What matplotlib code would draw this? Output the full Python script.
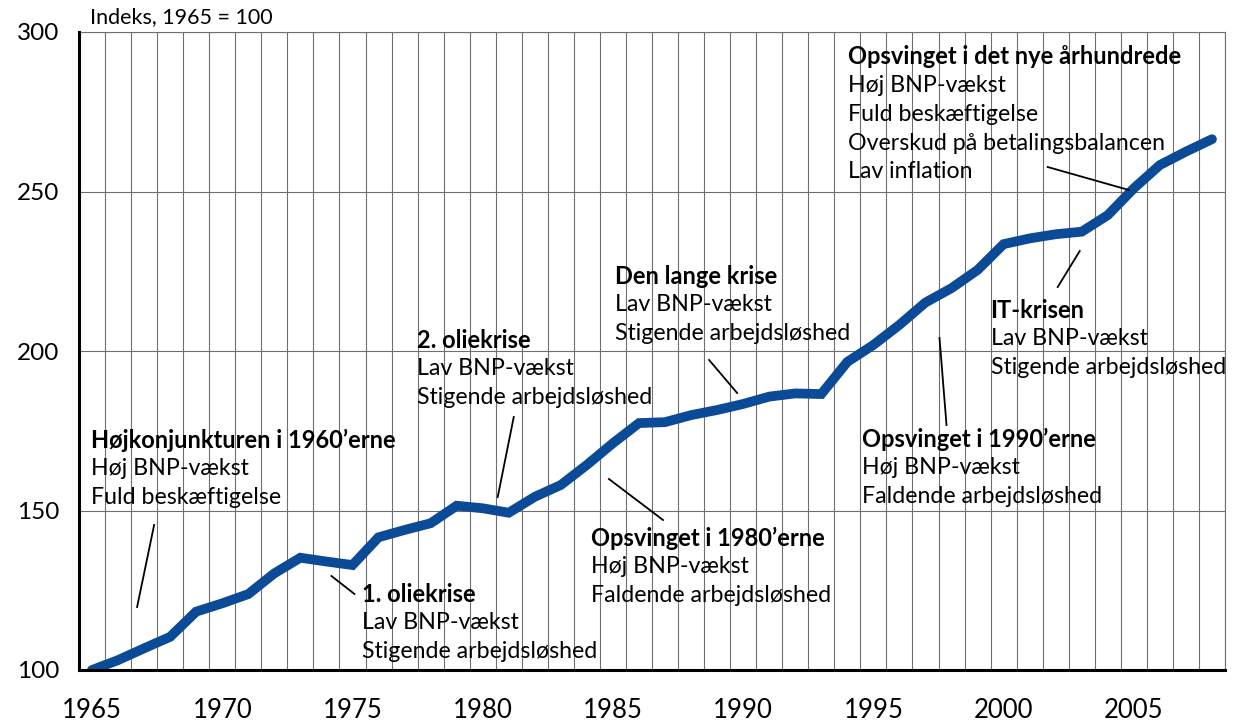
import numpy as np
import matplotlib
matplotlib.use("Agg")
import matplotlib.pyplot as plt
from matplotlib.ticker import FixedLocator

plt.rcParams['font.family'] = ['Lato', 'DejaVu Sans']

# data: index 1965 = 100
years = list(range(1965, 2009))
index = [100.0, 103.1, 106.8, 110.4, 118.3, 120.9, 123.8, 130.3, 135.2, 134.0,
         132.9, 141.6, 143.9, 146.0, 151.5, 150.7, 149.3, 154.3, 158.0, 164.3,
         171.1, 177.4, 177.7, 179.9, 181.5, 183.4, 185.7, 186.7, 186.5, 196.6,
         201.9, 208.2, 215.2, 219.7, 225.4, 233.5, 235.3, 236.6, 237.4, 242.6,
         251.0, 258.3, 262.5, 266.4]

ylabel = "Indeks, 1965 = 100"

# annotation blocks: title, body lines
titles = ["Højkonjunkturen i 1960\u2019erne", "1. oliekrise", "2. oliekrise",
          "Opsvinget i 1980\u2019erne", "Den lange krise", "Opsvinget i 1990\u2019erne",
          "IT-krisen", "Opsvinget i det nye århundrede"]
bodies = [["Høj BNP-vækst", "Fuld beskæftigelse"],
          ["Lav BNP-vækst", "Stigende arbejdsløshed"],
          ["Lav BNP-vækst", "Stigende arbejdsløshed"],
          ["Høj BNP-vækst", "Faldende arbejdsløshed"],
          ["Lav BNP-vækst", "Stigende arbejdsløshed"],
          ["Høj BNP-vækst", "Faldende arbejdsløshed"],
          ["Lav BNP-vækst", "Stigende arbejdsløshed"],
          ["Høj BNP-vækst", "Fuld beskæftigelse", "Overskud på betalingsbalancen", "Lav inflation"]]
# text anchor (pixel left, pixel centre of first line) and leader line ends (pixels)
text_px = [(92, 440), (363, 594), (417, 340), (591, 538), (615, 276), (862, 439), (990, 310), (848, 57)]
leaders_px = [((155, 525), (138, 607)),
              ((332, 576), (355, 594)),
              ((514, 417), (498, 497)),
              ((609, 479), (663, 520)),
              ((709, 360), (737, 393)),
              ((939, 338), (946, 425)),
              ((1079, 251), (1057, 287)),
              ((1047, 167), (1128, 190))]


def px2data(px, py):
    return 1965 + (px - 93) / 26.0, 100 + (670 - py) / 3.19


fig = plt.figure(figsize=(12.51, 7.27), dpi=100)
ax = fig.add_axes([79 / 1251, 57 / 727, (1225 - 79) / 1251, (670 - 32) / 727])

ax.plot(years, index, color='#0b4a96', lw=7, solid_joinstyle='miter', solid_capstyle='round', zorder=3)

ax.set_xlim(1964.5, 2008.5)
ax.set_ylim(100, 300)
ax.set_xticks(range(1965, 2006, 5))
ax.xaxis.set_minor_locator(FixedLocator(np.arange(1964.5, 2009, 1)))
ax.set_yticks([100, 150, 200, 250, 300])
ax.tick_params(which='both', length=0)
ax.tick_params(axis='x', pad=20, labelsize=18.5)
ax.tick_params(axis='y', pad=14, labelsize=17.5)
ax.grid(which='minor', axis='x', color='#6f6f6f', lw=0.8)
ax.grid(which='major', axis='y', color='#6f6f6f', lw=0.8)
ax.grid(which='major', axis='x', visible=False)

for side in ['top', 'right']:
    ax.spines[side].set_color('#6f6f6f')
    ax.spines[side].set_linewidth(0.8)
for side in ['left', 'bottom']:
    ax.spines[side].set_color('black')
    ax.spines[side].set_linewidth(2.2)
    ax.spines[side].set_zorder(4)

fig.text(90 / 1251, 1 - 17 / 727, ylabel, fontsize=15.5, va='center', ha='left')

step = 28.7
for title, body, (tx, ty), (p0, p1) in zip(titles, bodies, text_px, leaders_px):
    x0, y0 = px2data(tx, ty)
    ax.text(x0, y0, title, fontsize=17, fontweight='bold', va='center', ha='left', zorder=5)
    for i, line in enumerate(body):
        xi, yi = px2data(tx, ty + step * (i + 1))
        ax.text(xi, yi, line, fontsize=16.7, va='center', ha='left', zorder=5)
    a = px2data(*p0)
    b = px2data(*p1)
    ax.plot([a[0], b[0]], [a[1], b[1]], color='black', lw=1.3, zorder=4)

fig.savefig('out.png', dpi=100)
